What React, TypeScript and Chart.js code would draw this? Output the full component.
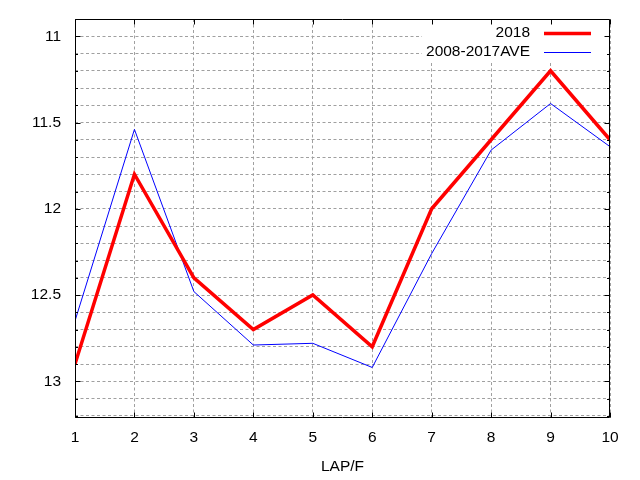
import { useEffect, useRef } from 'react';
import { Chart, registerables } from 'chart.js';

Chart.register(...registerables);

const laps = [1, 2, 3, 4, 5, 6, 7, 8, 9, 10];
const times2018 = [12.9, 11.8, 12.4, 12.7, 12.5, 12.8, 12.0, 11.6, 11.2, 11.6];
const timesAve = [12.65, 11.54, 12.48, 12.79, 12.78, 12.92, 12.26, 11.66, 11.39, 11.64];
const seriesLabels = ['2018', '2008-2017AVE'];
const yMajorTicks = [11, 11.5, 12, 12.5, 13];
const yGridValues = [
  10.9, 11, 11.1, 11.2, 11.3, 11.4, 11.5, 11.6, 11.7, 11.8, 11.9, 12,
  12.1, 12.2, 12.3, 12.4, 12.5, 12.6, 12.7, 12.8, 12.9, 13, 13.1, 13.2,
];

const FONT = { family: "'Liberation Sans', Arial, sans-serif", size: 15.5 };

// gnuplot look: frame, inward ticks on every side, opaque key top right
const framePlugin = {
  id: 'gnuplotFrame',
  afterDatasetsDraw(chart: any) {
    const { ctx, chartArea: a, scales } = chart;
    ctx.save();

    // key
    ctx.font = `${FONT.size}px ${FONT.family}`;
    const textRight = a.right - 80;
    const labels = chart.data.datasets.map((d: any) => d.label);
    const maxW = Math.max(...labels.map((l: string) => ctx.measureText(l).width));
    const boxLeft = textRight - maxW - 4;
    ctx.fillStyle = '#fff';
    ctx.fillRect(boxLeft, a.top, a.right - boxLeft, 43);
    chart.data.datasets.forEach((d: any, i: number) => {
      const y = a.top + 13.5 + i * 19;
      ctx.fillStyle = '#000';
      ctx.textAlign = 'right';
      ctx.textBaseline = 'middle';
      ctx.fillText(d.label, textRight, y);
      ctx.beginPath();
      ctx.strokeStyle = d.borderColor;
      ctx.lineWidth = d.borderWidth;
      ctx.moveTo(a.right - 66, y + 1);
      ctx.lineTo(a.right - 19, y + 1);
      ctx.stroke();
    });

    // frame
    const l = Math.round(a.left) + 0.5;
    const r = Math.round(a.right) - 0.5;
    const t = Math.round(a.top) + 0.5;
    const b = Math.round(a.bottom) - 0.5;
    ctx.strokeStyle = '#000';
    ctx.lineWidth = 1;
    ctx.beginPath();
    ctx.rect(l, t, r - l, b - t);

    scales.y.ticks.forEach((tk: any) => {
      const py = Math.round(scales.y.getPixelForValue(tk.value)) + 0.5;
      const len = yMajorTicks.includes(tk.value) ? 5 : 2.5;
      ctx.moveTo(l, py);
      ctx.lineTo(l + len, py);
      ctx.moveTo(r, py);
      ctx.lineTo(r - len, py);
    });
    scales.x.ticks.forEach((tk: any) => {
      const px = Math.round(scales.x.getPixelForValue(tk.value)) + 0.5;
      ctx.moveTo(px, b);
      ctx.lineTo(px, b - 5);
      ctx.moveTo(px, t);
      ctx.lineTo(px, t + 5);
    });
    ctx.stroke();
    ctx.restore();
  },
};

export default function App() {
  const canvasRef = useRef<HTMLCanvasElement>(null);
  const chartRef = useRef<Chart | null>(null);

  useEffect(() => {
    if (!canvasRef.current) return;
    if (chartRef.current) chartRef.current.destroy();

    chartRef.current = new Chart(canvasRef.current, {
      type: 'line',
      data: {
        datasets: [
          {
            label: seriesLabels[0],
            data: laps.map((x, i) => ({ x, y: times2018[i] })),
            borderColor: '#ff0000',
            borderWidth: 3.5,
            pointRadius: 0,
            tension: 0,
          },
          {
            label: seriesLabels[1],
            data: laps.map((x, i) => ({ x, y: timesAve[i] })),
            borderColor: '#0000ff',
            borderWidth: 1,
            pointRadius: 0,
            tension: 0,
          },
        ],
      },
      options: {
        responsive: false,
        animation: false,
        layout: { padding: { top: 19, right: 30, left: 0, bottom: 0 } },
        plugins: {
          legend: { display: false },
          tooltip: { enabled: false },
        },
        scales: {
          x: {
            type: 'linear',
            min: 1,
            max: 10,
            ticks: { stepSize: 1, font: FONT, color: '#000', padding: 10 },
            grid: { color: '#a0a0a0', drawTicks: false },
            border: { display: false, dash: [3, 2.5] },
            title: {
              display: true,
              text: 'LAP/F',
              font: FONT,
              color: '#000',
              padding: { top: 0, bottom: 4 },
            },
            afterFit: (s: any) => {
              s.height = 62;
            },
          },
          y: {
            type: 'linear',
            reverse: true,
            min: 10.9,
            max: 13.213,
            afterBuildTicks: (s: any) => {
              s.ticks = yGridValues.map((v) => ({ value: v }));
            },
            ticks: {
              autoSkip: false,
              font: FONT,
              color: '#000',
              padding: 14,
              callback: (v: any) => (yMajorTicks.includes(v) ? String(v) : ''),
            },
            grid: { color: '#a0a0a0', drawTicks: false },
            border: { display: false, dash: [3, 2.5] },
            afterFit: (s: any) => {
              s.width = 75;
              s.paddingTop = 0;
              s.paddingBottom = 0;
            },
          },
        },
      },
      plugins: [framePlugin],
    });

    return () => {
      if (chartRef.current) {
        chartRef.current.destroy();
        chartRef.current = null;
      }
    };
  }, []);

  return (
    <div style={{ position: 'absolute', left: 0, top: 0, width: 640, height: 480, background: '#fff' }}>
      <canvas ref={canvasRef} width={640} height={480}></canvas>
    </div>
  );
}
